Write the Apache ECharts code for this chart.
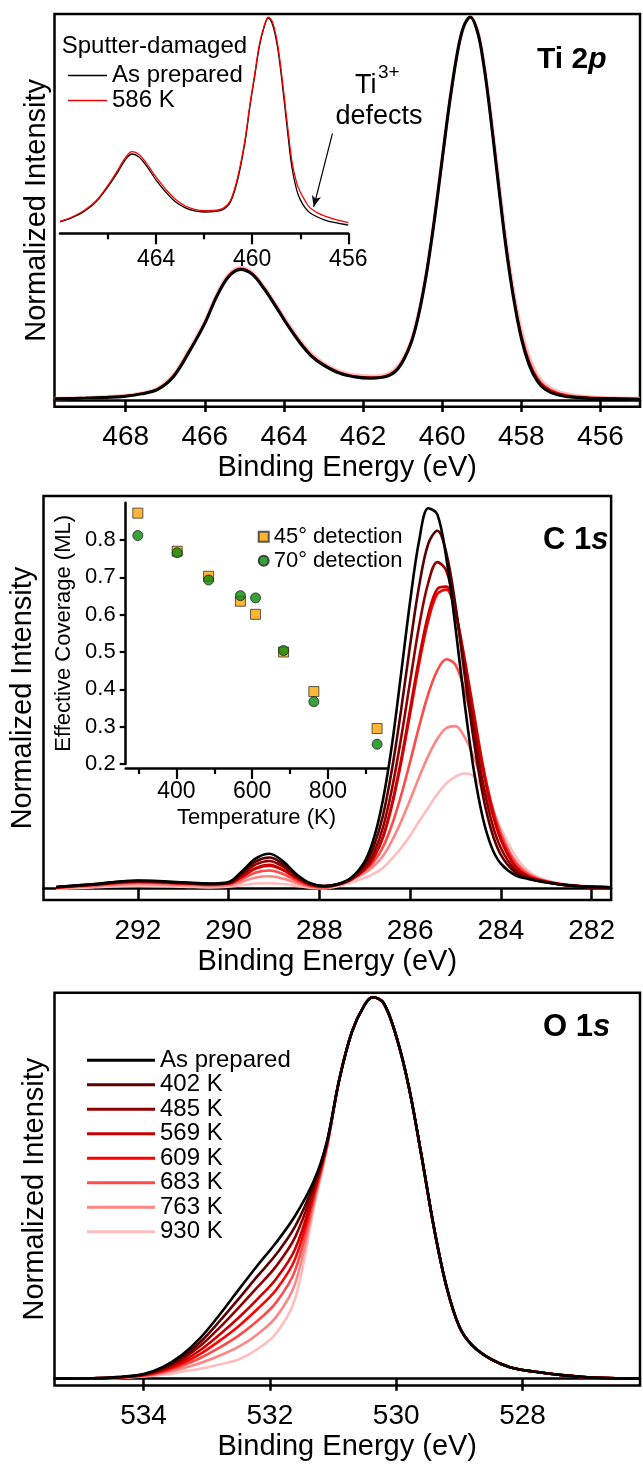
<!DOCTYPE html>
<html><head><meta charset="utf-8">
<script src="https://cdn.jsdelivr.net/npm/echarts@6/dist/echarts.min.js"></script>
<style>html,body{margin:0;padding:0;background:#fff}#c{width:643px;height:1465px}</style>
</head><body><div id="c"></div>
<script>
// ---------- DATA ----------
const temperatureLabels = ['As prepared','402 K','485 K','569 K','609 K','683 K','763 K','930 K'];
const temperatureColors = ['#000000','#5c0000','#900000','#c80000','#ff0000','#ff4a4a','#ff8585','#ffbdbd'];

// Ti 2p main panel
const tiX = [469.8,469.0,468.4,468.0,467.6,467.2,466.8,466.4,466.0,465.7,465.4,465.1,464.8,464.5,464.2,463.9,463.6,463.3,463.0,462.6,462.2,461.8,461.4,461.1,460.8,460.6,460.4,460.2,460.0,459.8,459.6,459.45,459.29,459.1,458.95,458.8,458.6,458.4,458.2,458.0,457.8,457.6,457.4,457.1,456.7,456.2,455.6,455.0];
const tiAsPrepared = [.003,.005,.007,.01,.016,.027,.06,.125,.2,.27,.322,.341,.328,.29,.243,.194,.15,.114,.091,.07,.06,.057,.0615,.084,.145,.22,.328,.468,.628,.786,.916,.977,1.0,.958,.875,.759,.581,.408,.268,.161,.091,.05,.028,.014,.007,.004,.003,.002];
const tiAnnealed = [.003,.005,.008,.011,.017,.028,.062,.127,.202,.272,.324,.343,.330,.292,.245,.196,.152,.116,.093,.072,.062,.059,.064,.087,.148,.223,.331,.47,.63,.787,.916,.977,1.0,.96,.878,.763,.587,.416,.275,.17,.1,.058,.035,.019,.01,.006,.004,.003];
const tiHot = [.004,.006,.009,.012,.018,.03,.065,.13,.205,.275,.327,.345,.332,.295,.248,.2,.156,.12,.096,.075,.065,.062,.067,.09,.15,.225,.333,.472,.632,.788,.917,.977,1.0,.962,.882,.77,.596,.425,.285,.182,.112,.066,.041,.023,.013,.007,.005,.004];
const tiTicks = [456,458,460,462,464,466,468];

// Ti 2p inset (sputter-damaged)
const tiInsetX = [468,467.5,467,466.5,466,465.6,465.3,465.0,464.7,464.4,464.0,463.6,463.2,462.8,462.4,462.0,461.6,461.2,460.9,460.6,460.3,460.1,459.9,459.7,459.5,459.33,459.15,458.95,458.75,458.55,458.35,458.15,458.0,457.8,457.6,457.3,457.0,456.6,456.0];
const tiInsetAsPrepared = [.053,.072,.1,.145,.215,.28,.335,.365,.35,.31,.245,.19,.145,.118,.103,.098,.1,.11,.145,.25,.42,.58,.72,.86,.95,.99,.96,.86,.69,.49,.305,.2,.155,.118,.095,.076,.062,.05,.038];
const tiInset586K = [.055,.075,.105,.15,.222,.29,.345,.376,.362,.322,.258,.203,.157,.127,.11,.104,.105,.116,.152,.26,.43,.59,.73,.87,.955,.995,.97,.875,.71,.515,.335,.232,.19,.15,.118,.095,.08,.065,.049];
const tiInsetMajorTicks = [456,460,464];
const tiInsetMinorTicks = [458,462,466];
const ti3Arrow = [[456.66,0.46],[457.44,0.122]];

// C 1s panel
const cX = [293.8,293.0,292.0,291.0,290.4,290.0,289.7,289.4,289.1,288.8,288.5,288.2,287.9,287.6,287.3,287.0,286.8,286.6,286.4,286.2,286.0,285.8,285.6,285.4,285.2,285.0,284.8,284.6,284.4,284.2,284.0,283.7,283.4,283.0,282.4,281.6];
const cAsPrepared = [.003,.01,.02,.015,.012,.016,.045,.078,.09,.07,.036,.013,.005,.01,.027,.07,.13,.23,.375,.56,.75,.91,.994,.978,.862,.682,.485,.311,.185,.106,.064,.035,.024,.015,.006,.002];
const c402K = [.003,.01,.019,.014,.011,.014,.04,.07,.08,.063,.033,.012,.006,.01,.026,.063,.11,.189,.311,.465,.636,.792,.901,.935,.876,.74,.56,.389,.246,.147,.087,.043,.026,.015,.006,.002];
const c485K = [.002,.009,.018,.013,.011,.013,.036,.062,.071,.056,.03,.01,.005,.01,.024,.055,.093,.158,.26,.392,.541,.687,.799,.853,.83,.729,.577,.421,.279,.173,.105,.05,.028,.016,.006,.002];
const c569K = [.002,.009,.017,.013,.01,.012,.031,.053,.061,.048,.026,.009,.004,.009,.022,.049,.08,.134,.221,.335,.468,.603,.716,.783,.789,.72,.595,.454,.315,.203,.126,.059,.031,.017,.006,.002];
const c609K = [.002,.009,.017,.013,.01,.012,.03,.051,.059,.047,.025,.008,.004,.009,.023,.049,.08,.132,.216,.327,.456,.588,.70,.77,.781,.721,.601,.463,.324,.211,.131,.062,.032,.017,.006,.002];
const c683K = [.001,.007,.014,.011,.008,.01,.024,.041,.046,.037,.019,.006,.002,.01,.023,.046,.069,.107,.166,.242,.331,.424,.508,.57,.599,.584,.517,.425,.317,.219,.144,.071,.036,.018,.006,.002];
const c763K = [0,.005,.011,.008,.006,.008,.017,.028,.031,.025,.013,.004,0,.009,.022,.04,.058,.084,.124,.174,.231,.291,.346,.391,.419,.424,.395,.344,.273,.201,.14,.074,.039,.019,.007,.002];
const c930K = [-.002,.002,.006,.004,.002,.004,.008,.012,.013,.011,.006,.001,0,.005,.015,.027,.038,.053,.077,.105,.138,.175,.211,.246,.274,.292,.30,.293,.259,.209,.156,.088,.045,.021,.008,.002];
const cTicks = [282,284,286,288,290,292];

// C 1s inset: effective coverage vs temperature
const coverageT = [298,402,485,569,609,683,763,930];
const coverage45 = [0.872,0.770,0.703,0.636,0.601,0.500,0.394,0.295];
const coverage70 = [0.812,0.766,0.693,0.651,0.645,0.504,0.367,0.253];
const coverageTTicks = [400,600,800];
const coverageTMinorTicks = [300,500,700,900];
const coverageTicks = [0.2,0.3,0.4,0.5,0.6,0.7,0.8];

// O 1s panel
const oX = [535.4,534.8,534.4,534.0,533.7,533.4,533.1,532.8,532.5,532.2,531.9,531.6,531.3,531.1,530.9,530.7,530.5,530.37,530.2,530.0,529.8,529.6,529.4,529.2,529.0,528.8,528.5,528.2,527.8,527.3,526.8,526.14];
const oMainPeakSide = [1.0,.985,.898,.765,.585,.394,.239,.136,.088,.051,.030,.018,.008,.002,0];
const oAsPrepared = [0,.001,.004,.012,.03,.061,.107,.167,.232,.296,.357,.427,.52,.62,.785,.91,.98];
const o402K = [0,.001,.004,.011,.027,.055,.096,.150,.208,.268,.326,.399,.511,.617,.785,.91,.98];
const o485K = [0,.001,.003,.010,.025,.050,.086,.133,.185,.239,.295,.371,.502,.615,.785,.91,.98];
const o569K = [0,.001,.003,.010,.022,.044,.075,.115,.159,.208,.262,.340,.492,.612,.785,.91,.98];
const o609K = [0,0,.003,.009,.020,.039,.065,.099,.137,.182,.233,.314,.484,.610,.785,.91,.98];
const o683K = [0,0,.003,.008,.017,.033,.054,.081,.112,.151,.200,.284,.474,.607,.785,.91,.98];
const o763K = [0,0,.002,.007,.014,.026,.041,.060,.083,.116,.162,.249,.463,.604,.785,.91,.98];
const o930K = [0,0,.002,.006,.010,.018,.026,.037,.050,.077,.119,.210,.450,.600,.785,.91,.98];
const oTicks = [528,530,532,534];

// ---------- CHART ----------
const F = "'Liberation Sans', Arial, Helvetica, sans-serif";
const zip = (xs, ys) => xs.map((x, i) => [x, ys[i]]);
const cSets = [cAsPrepared,c402K,c485K,c569K,c609K,c683K,c763K,c930K];
const oSets = [oAsPrepared,o402K,o485K,o569K,o609K,o683K,o763K,o930K].map(a => a.concat(oMainPeakSide));

function mainX(grid, min, max, ticks) {
  return {
    gridIndex: grid, type: 'value', inverse: true, min: min, max: max,
    axisLine: {show: true, lineStyle: {color: '#000', width: 2.5}},
    axisTick: {show: true, inside: false, length: 12, lineStyle: {color: '#000', width: 2.5}, customValues: ticks},
    axisLabel: {customValues: ticks, fontSize: 28, color: '#000', fontFamily: F, margin: 17},
    splitLine: {show: false},
    name: 'Binding Energy (eV)', nameLocation: 'middle', nameGap: 47,
    nameTextStyle: {fontSize: 29, color: '#000', fontFamily: F}
  };
}
function mainY(grid, min, max, gap) {
  return {
    gridIndex: grid, type: 'value', min: min, max: max,
    axisLine: {show: false}, axisTick: {show: false}, axisLabel: {show: false}, splitLine: {show: false},
    name: 'Normalized Intensity', nameLocation: 'middle', nameGap: gap,
    nameTextStyle: {fontSize: 29, color: '#000', fontFamily: F}
  };
}
function lineSeries(name, xi, yi, xs, ys, color, width, z) {
  return {type: 'line', name: name, xAxisIndex: xi, yAxisIndex: yi, data: zip(xs, ys),
    symbol: 'none', smooth: 0.35, lineStyle: {color: color, width: width}, itemStyle: {color: color}, z: z, silent: true};
}

const series = [];
// Ti main
series.push(lineSeries('Ti 930 K', 0, 0, tiX, tiHot, temperatureColors[7], 3.5, 2));
series.push(lineSeries('Ti 609 K', 0, 0, tiX, tiAnnealed, '#e00000', 2.2, 3));
series.push(lineSeries('Ti As prepared', 0, 0, tiX, tiAsPrepared, '#000', 3, 4));
// Ti inset
series.push(lineSeries('Sputter As prepared', 1, 1, tiInsetX, tiInsetAsPrepared, '#000', 1.3, 5));
const redInset = lineSeries('Sputter 586 K', 1, 1, tiInsetX, tiInset586K, '#ff0000', 1.3, 6);
redInset.markLine = {silent: true, symbol: ['none', 'arrow'], symbolSize: [7, 11],
  lineStyle: {color: '#000', width: 1.2, type: 'solid'}, label: {show: false},
  data: [[{coord: ti3Arrow[0]}, {coord: ti3Arrow[1]}]]};
series.push(redInset);
// C 1s and O 1s, pale first so black ends on top
for (let k = 7; k >= 0; k--) {
  const w = 2.6;
  series.push(lineSeries(temperatureLabels[k], 3, 2, cX, cSets[k], temperatureColors[k], w, 10 - k));
  series.push(lineSeries(temperatureLabels[k], 6, 4, oX, oSets[k], temperatureColors[k], w, 10 - k));
}
// coverage scatter
series.push({type: 'scatter', name: '45° detection', xAxisIndex: 4, yAxisIndex: 3, data: zip(coverageT, coverage45),
  symbol: 'rect', symbolSize: 10, itemStyle: {color: '#ffa500', borderColor: '#333', borderWidth: 1}, z: 5});
series.push({type: 'scatter', name: '70° detection', xAxisIndex: 4, yAxisIndex: 3, data: zip(coverageT, coverage70),
  symbol: 'circle', symbolSize: 10, itemStyle: {color: '#088a08', borderColor: '#222', borderWidth: 1}, z: 6});

const option = {
  animation: false,
  backgroundColor: '#fff',
  textStyle: {fontFamily: F},
  grid: [
    {left: 54.5, top: 14, width: 585.5, height: 392.7, show: true, borderColor: '#000', borderWidth: 2.5, backgroundColor: 'transparent'},
    {left: 60, top: 16, width: 288.3, height: 217.3},
    {left: 43.5, top: 496, width: 594.5, height: 404, show: true, borderColor: '#000', borderWidth: 2.5, backgroundColor: 'transparent'},
    {left: 125.7, top: 502.7, width: 261.6, height: 261.3},
    {left: 54.5, top: 992.7, width: 585.5, height: 392.8, show: true, borderColor: '#000', borderWidth: 2.5, backgroundColor: 'transparent'}
  ],
  xAxis: [
    mainX(0, 455.0, 469.8, tiTicks),
    {gridIndex: 1, type: 'value', inverse: true, min: 456, max: 468,
      axisLine: {show: true, lineStyle: {color: '#000', width: 2.5}},
      axisTick: {show: true, length: 11, lineStyle: {color: '#000', width: 2.2}, customValues: tiInsetMajorTicks},
      axisLabel: {customValues: tiInsetMajorTicks, fontSize: 23, color: '#000', fontFamily: F, margin: 15},
      splitLine: {show: false}},
    {gridIndex: 1, type: 'value', inverse: true, min: 456, max: 468, position: 'bottom', offset: 0,
      axisLine: {show: false},
      axisTick: {show: true, length: 6, lineStyle: {color: '#000', width: 2.2}, customValues: tiInsetMinorTicks},
      axisLabel: {show: false}, splitLine: {show: false}},
    mainX(2, 281.57, 294.08, cTicks),
    {gridIndex: 3, type: 'value', min: 266, max: 957, offset: 4,
      axisLine: {show: true, lineStyle: {color: '#000', width: 2.5}},
      axisTick: {show: true, length: 11, lineStyle: {color: '#000', width: 2.2}, customValues: coverageTTicks},
      axisLabel: {customValues: coverageTTicks, fontSize: 23, color: '#000', fontFamily: F, margin: 12},
      splitLine: {show: false},
      name: 'Temperature (K)', nameLocation: 'middle', nameGap: 39,
      nameTextStyle: {fontSize: 22, color: '#000', fontFamily: F}},
    {gridIndex: 3, type: 'value', min: 266, max: 957, offset: 4, position: 'bottom',
      axisLine: {show: false},
      axisTick: {show: true, length: 6, lineStyle: {color: '#000', width: 2.2}, customValues: coverageTMinorTicks},
      axisLabel: {show: false}, splitLine: {show: false}},
    mainX(4, 526.14, 535.41, oTicks)
  ],
  yAxis: [
    mainY(0, -0.0175, 1.0078, 3),
    {gridIndex: 1, type: 'value', min: 0, max: 1, show: false},
    mainY(2, -0.031, 1.026, 6),
    {gridIndex: 3, type: 'value', min: 0.2, max: 0.9,
      axisLine: {show: true, lineStyle: {color: '#000', width: 2.5}},
      axisTick: {show: true, length: 6, lineStyle: {color: '#000', width: 2.2}, customValues: coverageTicks},
      axisLabel: {customValues: coverageTicks, fontSize: 22, color: '#000', fontFamily: F, margin: 10,
        formatter: v => v.toFixed(1)},
      splitLine: {show: false},
      name: 'Effective Coverage (ML)', nameLocation: 'middle', nameGap: 51,
      nameTextStyle: {fontSize: 22, color: '#000', fontFamily: F}},
    mainY(4, -0.018, 1.012, 5)
  ],
  legend: [
    {data: temperatureLabels.map(n => ({name: n, icon: 'rect'})), orient: 'vertical', left: 82, top: 1043,
      itemWidth: 68, itemHeight: 3, itemGap: 0, textStyle: {fontSize: 24, color: '#000', fontFamily: F, lineHeight: 24.5},
      selectedMode: false},
    {data: [{name: 'Sputter As prepared', icon: 'rect'}, {name: 'Sputter 586 K', icon: 'rect'}], orient: 'vertical', left: 63, top: 58,
      itemWidth: 39, itemHeight: 1.5, itemGap: 0, formatter: n => n.replace('Sputter ', ''),
      textStyle: {fontSize: 24, color: '#000', fontFamily: F, lineHeight: 25}, selectedMode: false},
    {data: ['45° detection', '70° detection'], orient: 'vertical', left: 252.7, top: 519.7, itemWidth: 10, itemHeight: 10, itemGap: 0,
      textStyle: {fontSize: 22, color: '#000', fontFamily: F, lineHeight: 24}, selectedMode: false}
  ],
  graphic: [
    {type: 'text', x: 537, y: 60, style: {text: '{n|Ti 2}{i|p}', verticalAlign: 'middle', align: 'left', fill: '#000',
      rich: {n: {fontSize: 30, fontWeight: 'bold', fontFamily: F}, i: {fontSize: 30, fontWeight: 'bold', fontStyle: 'italic', fontFamily: F}}}},
    {type: 'text', x: 543, y: 540, style: {text: '{n|C 1}{i|s}', verticalAlign: 'middle', align: 'left', fill: '#000',
      rich: {n: {fontSize: 31, fontWeight: 'bold', fontFamily: F}, i: {fontSize: 31, fontWeight: 'bold', fontStyle: 'italic', fontFamily: F}}}},
    {type: 'text', x: 543, y: 1027, style: {text: '{n|O 1}{i|s}', verticalAlign: 'middle', align: 'left', fill: '#000',
      rich: {n: {fontSize: 31, fontWeight: 'bold', fontFamily: F}, i: {fontSize: 31, fontWeight: 'bold', fontStyle: 'italic', fontFamily: F}}}},
    {type: 'text', x: 61.7, y: 46, style: {text: 'Sputter-damaged', fontSize: 24, fontFamily: F, fill: '#000', verticalAlign: 'middle', align: 'left'}},
    {type: 'text', x: 355, y: 86, style: {text: 'Ti', fontSize: 27, fontFamily: F, fill: '#000', verticalAlign: 'middle', align: 'left'}},
    {type: 'text', x: 378, y: 73, style: {text: '3+', fontSize: 19, fontFamily: F, fill: '#000', verticalAlign: 'middle', align: 'left'}},
    {type: 'text', x: 379, y: 117, style: {text: 'defects', fontSize: 27, fontFamily: F, fill: '#000', verticalAlign: 'middle', align: 'center'}}
  ],
  series: series
};
const chart = echarts.init(document.getElementById('c'), null, {renderer: 'canvas'});
chart.setOption(option);
</script>
</body></html>
